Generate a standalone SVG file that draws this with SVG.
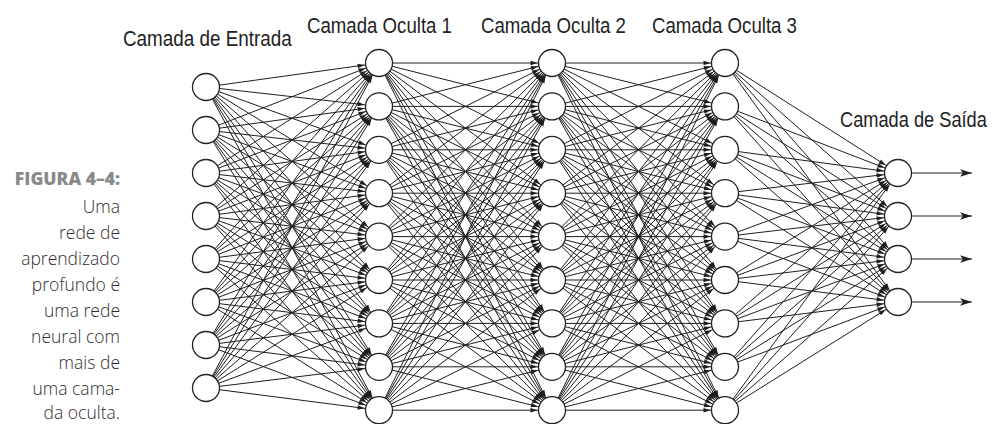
<svg xmlns="http://www.w3.org/2000/svg" width="993" height="424" viewBox="0 0 993 424">
<style>
.bg{fill:#fff}
.c path{stroke:#1e1e1e;stroke-width:1;fill:none;marker-end:url(#ah)}
.o path{stroke:#1e1e1e;stroke-width:1.2;fill:none;marker-end:url(#oa)}
.n{fill:#fff;stroke:#222;stroke-width:1.3}
.lbl{font-family:"Liberation Sans",Arial,sans-serif;font-size:21.5px;fill:#222}
.cap{font-family:"Open Sans","Noto Sans",sans-serif;font-size:17.5px;fill:#2e2e2e;font-weight:300;text-anchor:end}
.fig{font-family:"Open Sans","Noto Sans",sans-serif;font-size:17.5px;fill:#8a8a8a;font-weight:800;text-anchor:end}
</style>
<defs>
<marker id="ah" markerUnits="userSpaceOnUse" viewBox="0 -3 22 6" markerWidth="22" markerHeight="6" refX="21.5" refY="0" orient="auto" overflow="visible">
<path d="M0,-2.3 L7,0 L0,2.3 z" fill="#1e1e1e"/>
</marker>
<marker id="oa" markerUnits="userSpaceOnUse" viewBox="0 -4 13 8" markerWidth="13" markerHeight="8" refX="12" refY="0" orient="auto" overflow="visible">
<path d="M0,-3.8 L12,0 L0,3.8 L3,0 z" fill="#1e1e1e"/>
</marker>
</defs>
<rect class="bg" x="0" y="0" width="993" height="424"/>
<g id="caption">
<text class="fig" x="120" y="185">FIGURA 4–4:</text>
<text class="cap" x="120" y="213">Uma</text>
<text class="cap" x="120" y="239">rede de</text>
<text class="cap" x="120" y="265">aprendizado</text>
<text class="cap" x="120" y="291">profundo é</text>
<text class="cap" x="120" y="317">uma rede</text>
<text class="cap" x="120" y="343">neural com</text>
<text class="cap" x="120" y="369">mais de</text>
<text class="cap" x="120" y="395">uma cama-</text>
<text class="cap" x="120" y="419">da oculta.</text>
</g>
<g id="labels">
<text class="lbl" transform="translate(123,46) scale(0.878,1)">Camada de Entrada</text>
<text class="lbl" transform="translate(307,33) scale(0.867,1)">Camada Oculta 1</text>
<text class="lbl" transform="translate(481,33) scale(0.867,1)">Camada Oculta 2</text>
<text class="lbl" transform="translate(652,33) scale(0.867,1)">Camada Oculta 3</text>
<text class="lbl" transform="translate(840,127) scale(0.848,1)">Camada de Saída</text>
</g>
<g id="connectors">
<g class="c">
<path d="M206 87L379 63"/><path d="M206 87L379 106.4"/><path d="M206 87L379 149.8"/><path d="M206 87L379 193.2"/><path d="M206 87L379 236.6"/><path d="M206 87L379 280"/><path d="M206 87L379 323.4"/><path d="M206 87L379 366.8"/><path d="M206 87L379 410.2"/>
<path d="M206 130L379 63"/><path d="M206 130L379 106.4"/><path d="M206 130L379 149.8"/><path d="M206 130L379 193.2"/><path d="M206 130L379 236.6"/><path d="M206 130L379 280"/><path d="M206 130L379 323.4"/><path d="M206 130L379 366.8"/><path d="M206 130L379 410.2"/>
<path d="M206 173L379 63"/><path d="M206 173L379 106.4"/><path d="M206 173L379 149.8"/><path d="M206 173L379 193.2"/><path d="M206 173L379 236.6"/><path d="M206 173L379 280"/><path d="M206 173L379 323.4"/><path d="M206 173L379 366.8"/><path d="M206 173L379 410.2"/>
<path d="M206 216L379 63"/><path d="M206 216L379 106.4"/><path d="M206 216L379 149.8"/><path d="M206 216L379 193.2"/><path d="M206 216L379 236.6"/><path d="M206 216L379 280"/><path d="M206 216L379 323.4"/><path d="M206 216L379 366.8"/><path d="M206 216L379 410.2"/>
<path d="M206 259L379 63"/><path d="M206 259L379 106.4"/><path d="M206 259L379 149.8"/><path d="M206 259L379 193.2"/><path d="M206 259L379 236.6"/><path d="M206 259L379 280"/><path d="M206 259L379 323.4"/><path d="M206 259L379 366.8"/><path d="M206 259L379 410.2"/>
<path d="M206 302L379 63"/><path d="M206 302L379 106.4"/><path d="M206 302L379 149.8"/><path d="M206 302L379 193.2"/><path d="M206 302L379 236.6"/><path d="M206 302L379 280"/><path d="M206 302L379 323.4"/><path d="M206 302L379 366.8"/><path d="M206 302L379 410.2"/>
<path d="M206 345L379 63"/><path d="M206 345L379 106.4"/><path d="M206 345L379 149.8"/><path d="M206 345L379 193.2"/><path d="M206 345L379 236.6"/><path d="M206 345L379 280"/><path d="M206 345L379 323.4"/><path d="M206 345L379 366.8"/><path d="M206 345L379 410.2"/>
<path d="M206 388L379 63"/><path d="M206 388L379 106.4"/><path d="M206 388L379 149.8"/><path d="M206 388L379 193.2"/><path d="M206 388L379 236.6"/><path d="M206 388L379 280"/><path d="M206 388L379 323.4"/><path d="M206 388L379 366.8"/><path d="M206 388L379 410.2"/>

<path d="M379 63L552 63"/><path d="M379 63L552 106.4"/><path d="M379 63L552 149.8"/><path d="M379 63L552 193.2"/><path d="M379 63L552 236.6"/><path d="M379 63L552 280"/><path d="M379 63L552 323.4"/><path d="M379 63L552 366.8"/><path d="M379 63L552 410.2"/>
<path d="M379 106.4L552 63"/><path d="M379 106.4L552 106.4"/><path d="M379 106.4L552 149.8"/><path d="M379 106.4L552 193.2"/><path d="M379 106.4L552 236.6"/><path d="M379 106.4L552 280"/><path d="M379 106.4L552 323.4"/><path d="M379 106.4L552 366.8"/><path d="M379 106.4L552 410.2"/>
<path d="M379 149.8L552 63"/><path d="M379 149.8L552 106.4"/><path d="M379 149.8L552 149.8"/><path d="M379 149.8L552 193.2"/><path d="M379 149.8L552 236.6"/><path d="M379 149.8L552 280"/><path d="M379 149.8L552 323.4"/><path d="M379 149.8L552 366.8"/><path d="M379 149.8L552 410.2"/>
<path d="M379 193.2L552 63"/><path d="M379 193.2L552 106.4"/><path d="M379 193.2L552 149.8"/><path d="M379 193.2L552 193.2"/><path d="M379 193.2L552 236.6"/><path d="M379 193.2L552 280"/><path d="M379 193.2L552 323.4"/><path d="M379 193.2L552 366.8"/><path d="M379 193.2L552 410.2"/>
<path d="M379 236.6L552 63"/><path d="M379 236.6L552 106.4"/><path d="M379 236.6L552 149.8"/><path d="M379 236.6L552 193.2"/><path d="M379 236.6L552 236.6"/><path d="M379 236.6L552 280"/><path d="M379 236.6L552 323.4"/><path d="M379 236.6L552 366.8"/><path d="M379 236.6L552 410.2"/>
<path d="M379 280L552 63"/><path d="M379 280L552 106.4"/><path d="M379 280L552 149.8"/><path d="M379 280L552 193.2"/><path d="M379 280L552 236.6"/><path d="M379 280L552 280"/><path d="M379 280L552 323.4"/><path d="M379 280L552 366.8"/><path d="M379 280L552 410.2"/>
<path d="M379 323.4L552 63"/><path d="M379 323.4L552 106.4"/><path d="M379 323.4L552 149.8"/><path d="M379 323.4L552 193.2"/><path d="M379 323.4L552 236.6"/><path d="M379 323.4L552 280"/><path d="M379 323.4L552 323.4"/><path d="M379 323.4L552 366.8"/><path d="M379 323.4L552 410.2"/>
<path d="M379 366.8L552 63"/><path d="M379 366.8L552 106.4"/><path d="M379 366.8L552 149.8"/><path d="M379 366.8L552 193.2"/><path d="M379 366.8L552 236.6"/><path d="M379 366.8L552 280"/><path d="M379 366.8L552 323.4"/><path d="M379 366.8L552 366.8"/><path d="M379 366.8L552 410.2"/>
<path d="M379 410.2L552 63"/><path d="M379 410.2L552 106.4"/><path d="M379 410.2L552 149.8"/><path d="M379 410.2L552 193.2"/><path d="M379 410.2L552 236.6"/><path d="M379 410.2L552 280"/><path d="M379 410.2L552 323.4"/><path d="M379 410.2L552 366.8"/><path d="M379 410.2L552 410.2"/>

<path d="M552 63L725 63"/><path d="M552 63L725 106.4"/><path d="M552 63L725 149.8"/><path d="M552 63L725 193.2"/><path d="M552 63L725 236.6"/><path d="M552 63L725 280"/><path d="M552 63L725 323.4"/><path d="M552 63L725 366.8"/><path d="M552 63L725 410.2"/>
<path d="M552 106.4L725 63"/><path d="M552 106.4L725 106.4"/><path d="M552 106.4L725 149.8"/><path d="M552 106.4L725 193.2"/><path d="M552 106.4L725 236.6"/><path d="M552 106.4L725 280"/><path d="M552 106.4L725 323.4"/><path d="M552 106.4L725 366.8"/><path d="M552 106.4L725 410.2"/>
<path d="M552 149.8L725 63"/><path d="M552 149.8L725 106.4"/><path d="M552 149.8L725 149.8"/><path d="M552 149.8L725 193.2"/><path d="M552 149.8L725 236.6"/><path d="M552 149.8L725 280"/><path d="M552 149.8L725 323.4"/><path d="M552 149.8L725 366.8"/><path d="M552 149.8L725 410.2"/>
<path d="M552 193.2L725 63"/><path d="M552 193.2L725 106.4"/><path d="M552 193.2L725 149.8"/><path d="M552 193.2L725 193.2"/><path d="M552 193.2L725 236.6"/><path d="M552 193.2L725 280"/><path d="M552 193.2L725 323.4"/><path d="M552 193.2L725 366.8"/><path d="M552 193.2L725 410.2"/>
<path d="M552 236.6L725 63"/><path d="M552 236.6L725 106.4"/><path d="M552 236.6L725 149.8"/><path d="M552 236.6L725 193.2"/><path d="M552 236.6L725 236.6"/><path d="M552 236.6L725 280"/><path d="M552 236.6L725 323.4"/><path d="M552 236.6L725 366.8"/><path d="M552 236.6L725 410.2"/>
<path d="M552 280L725 63"/><path d="M552 280L725 106.4"/><path d="M552 280L725 149.8"/><path d="M552 280L725 193.2"/><path d="M552 280L725 236.6"/><path d="M552 280L725 280"/><path d="M552 280L725 323.4"/><path d="M552 280L725 366.8"/><path d="M552 280L725 410.2"/>
<path d="M552 323.4L725 63"/><path d="M552 323.4L725 106.4"/><path d="M552 323.4L725 149.8"/><path d="M552 323.4L725 193.2"/><path d="M552 323.4L725 236.6"/><path d="M552 323.4L725 280"/><path d="M552 323.4L725 323.4"/><path d="M552 323.4L725 366.8"/><path d="M552 323.4L725 410.2"/>
<path d="M552 366.8L725 63"/><path d="M552 366.8L725 106.4"/><path d="M552 366.8L725 149.8"/><path d="M552 366.8L725 193.2"/><path d="M552 366.8L725 236.6"/><path d="M552 366.8L725 280"/><path d="M552 366.8L725 323.4"/><path d="M552 366.8L725 366.8"/><path d="M552 366.8L725 410.2"/>
<path d="M552 410.2L725 63"/><path d="M552 410.2L725 106.4"/><path d="M552 410.2L725 149.8"/><path d="M552 410.2L725 193.2"/><path d="M552 410.2L725 236.6"/><path d="M552 410.2L725 280"/><path d="M552 410.2L725 323.4"/><path d="M552 410.2L725 366.8"/><path d="M552 410.2L725 410.2"/>

<path d="M725 63L898 173"/><path d="M725 63L898 216"/><path d="M725 63L898 259"/><path d="M725 63L898 302"/>
<path d="M725 106.4L898 173"/><path d="M725 106.4L898 216"/><path d="M725 106.4L898 259"/><path d="M725 106.4L898 302"/>
<path d="M725 149.8L898 173"/><path d="M725 149.8L898 216"/><path d="M725 149.8L898 259"/><path d="M725 149.8L898 302"/>
<path d="M725 193.2L898 173"/><path d="M725 193.2L898 216"/><path d="M725 193.2L898 259"/><path d="M725 193.2L898 302"/>
<path d="M725 236.6L898 173"/><path d="M725 236.6L898 216"/><path d="M725 236.6L898 259"/><path d="M725 236.6L898 302"/>
<path d="M725 280L898 173"/><path d="M725 280L898 216"/><path d="M725 280L898 259"/><path d="M725 280L898 302"/>
<path d="M725 323.4L898 173"/><path d="M725 323.4L898 216"/><path d="M725 323.4L898 259"/><path d="M725 323.4L898 302"/>
<path d="M725 366.8L898 173"/><path d="M725 366.8L898 216"/><path d="M725 366.8L898 259"/><path d="M725 366.8L898 302"/>
<path d="M725 410.2L898 173"/><path d="M725 410.2L898 216"/><path d="M725 410.2L898 259"/><path d="M725 410.2L898 302"/>
</g>
<g class="o">
<path d="M912 173H972"/><path d="M912 216H972"/><path d="M912 259H972"/><path d="M912 302H972"/>
</g>
</g>
<g id="in1"><circle class="n" cx="206" cy="87" r="13.5"/></g>
<g id="in2"><circle class="n" cx="206" cy="130" r="13.5"/></g>
<g id="in3"><circle class="n" cx="206" cy="173" r="13.5"/></g>
<g id="in4"><circle class="n" cx="206" cy="216" r="13.5"/></g>
<g id="in5"><circle class="n" cx="206" cy="259" r="13.5"/></g>
<g id="in6"><circle class="n" cx="206" cy="302" r="13.5"/></g>
<g id="in7"><circle class="n" cx="206" cy="345" r="13.5"/></g>
<g id="in8"><circle class="n" cx="206" cy="388" r="13.5"/></g>
<g id="h1n1"><circle class="n" cx="379" cy="63" r="13.5"/></g>
<g id="h1n2"><circle class="n" cx="379" cy="106.4" r="13.5"/></g>
<g id="h1n3"><circle class="n" cx="379" cy="149.8" r="13.5"/></g>
<g id="h1n4"><circle class="n" cx="379" cy="193.2" r="13.5"/></g>
<g id="h1n5"><circle class="n" cx="379" cy="236.6" r="13.5"/></g>
<g id="h1n6"><circle class="n" cx="379" cy="280" r="13.5"/></g>
<g id="h1n7"><circle class="n" cx="379" cy="323.4" r="13.5"/></g>
<g id="h1n8"><circle class="n" cx="379" cy="366.8" r="13.5"/></g>
<g id="h1n9"><circle class="n" cx="379" cy="410.2" r="13.5"/></g>
<g id="h2n1"><circle class="n" cx="552" cy="63" r="13.5"/></g>
<g id="h2n2"><circle class="n" cx="552" cy="106.4" r="13.5"/></g>
<g id="h2n3"><circle class="n" cx="552" cy="149.8" r="13.5"/></g>
<g id="h2n4"><circle class="n" cx="552" cy="193.2" r="13.5"/></g>
<g id="h2n5"><circle class="n" cx="552" cy="236.6" r="13.5"/></g>
<g id="h2n6"><circle class="n" cx="552" cy="280" r="13.5"/></g>
<g id="h2n7"><circle class="n" cx="552" cy="323.4" r="13.5"/></g>
<g id="h2n8"><circle class="n" cx="552" cy="366.8" r="13.5"/></g>
<g id="h2n9"><circle class="n" cx="552" cy="410.2" r="13.5"/></g>
<g id="h3n1"><circle class="n" cx="725" cy="63" r="13.5"/></g>
<g id="h3n2"><circle class="n" cx="725" cy="106.4" r="13.5"/></g>
<g id="h3n3"><circle class="n" cx="725" cy="149.8" r="13.5"/></g>
<g id="h3n4"><circle class="n" cx="725" cy="193.2" r="13.5"/></g>
<g id="h3n5"><circle class="n" cx="725" cy="236.6" r="13.5"/></g>
<g id="h3n6"><circle class="n" cx="725" cy="280" r="13.5"/></g>
<g id="h3n7"><circle class="n" cx="725" cy="323.4" r="13.5"/></g>
<g id="h3n8"><circle class="n" cx="725" cy="366.8" r="13.5"/></g>
<g id="h3n9"><circle class="n" cx="725" cy="410.2" r="13.5"/></g>
<g id="out1"><circle class="n" cx="898" cy="173" r="13.5"/></g>
<g id="out2"><circle class="n" cx="898" cy="216" r="13.5"/></g>
<g id="out3"><circle class="n" cx="898" cy="259" r="13.5"/></g>
<g id="out4"><circle class="n" cx="898" cy="302" r="13.5"/></g>
</svg>
